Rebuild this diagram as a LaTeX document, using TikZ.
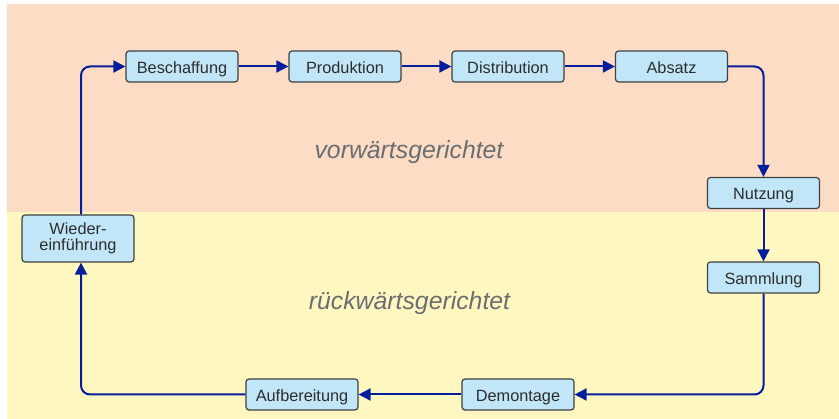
\documentclass[tikz,border=0pt]{standalone}
\usepackage{fontspec}
\setmainfont{Liberation Sans}
\usetikzlibrary{arrows.meta}
\definecolor{peach}{RGB}{252,220,196}
\definecolor{lemon}{RGB}{255,247,192}
\definecolor{boxfill}{RGB}{192,230,248}
\definecolor{boxline}{RGB}{64,64,64}
\definecolor{flow}{RGB}{5,30,155}
\definecolor{labelgray}{RGB}{106,110,115}
\definecolor{boxtext}{RGB}{45,45,45}
\tikzset{
  stagebase/.style={draw=boxline, line width=1.2pt, fill=boxfill, rounded corners=3pt,
    minimum width=112pt, inner sep=0pt,
    font=\fontsize{16.3}{17.5}\selectfont, text=boxtext, align=center},
  stage/.style={stagebase, minimum height=31pt, text height=13.6pt, text depth=0pt},
  flowline/.style={draw=flow, line width=2pt, rounded corners=9pt,
    -{Triangle[length=12pt,width=12pt]}},
  region/.style={font=\fontsize{24.8}{28}\selectfont\itshape, text=labelgray}
}
\begin{document}
\begin{tikzpicture}[x=1pt,y=-1pt]
\useasboundingbox (0,0) rectangle (839,419);
% two bands
\fill[peach] (7,4) rectangle (839,212);
\fill[lemon] (7,212) rectangle (839,419);
\node[region] (fwd) at (409,152) {vorwärtsgerichtet};
\node[region] (bwd) at (409.5,303) {rückwärtsgerichtet};
% stages
\node[stage] (besch) at (182,66.5) {Beschaffung};
\node[stage] (prod)  at (345,66.5) {Produktion};
\node[stage] (dist)  at (508,66.5) {Distribution};
\node[stage] (abs)   at (671.5,66.5) {Absatz};
\node[stage] (nutz)  at (763.5,193) {Nutzung};
\node[stage] (samm)  at (763.5,277.5) {Sammlung};
\node[stage] (dem)   at (518,394.5) {Demontage};
\node[stage] (aufb)  at (302,394.5) {Aufbereitung};
\node[stagebase, minimum height=47pt, text width=110pt] (wied) at (78,238.5) {Wieder-\\[-2pt]einführung};
% connectors
\draw[flowline] (besch) -- (prod);
\draw[flowline] (prod) -- (dist);
\draw[flowline] (dist) -- (abs);
\draw[flowline] (abs.east) -| (nutz.north);
\draw[flowline] (nutz) -- (samm);
\draw[flowline] (samm.south) |- (dem.east);
\draw[flowline] (dem) -- (aufb);
\draw[flowline] (aufb.west) -| ([xshift=3pt]wied.south);
\draw[flowline] ([xshift=3pt]wied.north) |- (besch.west);
\end{tikzpicture}
\end{document}
